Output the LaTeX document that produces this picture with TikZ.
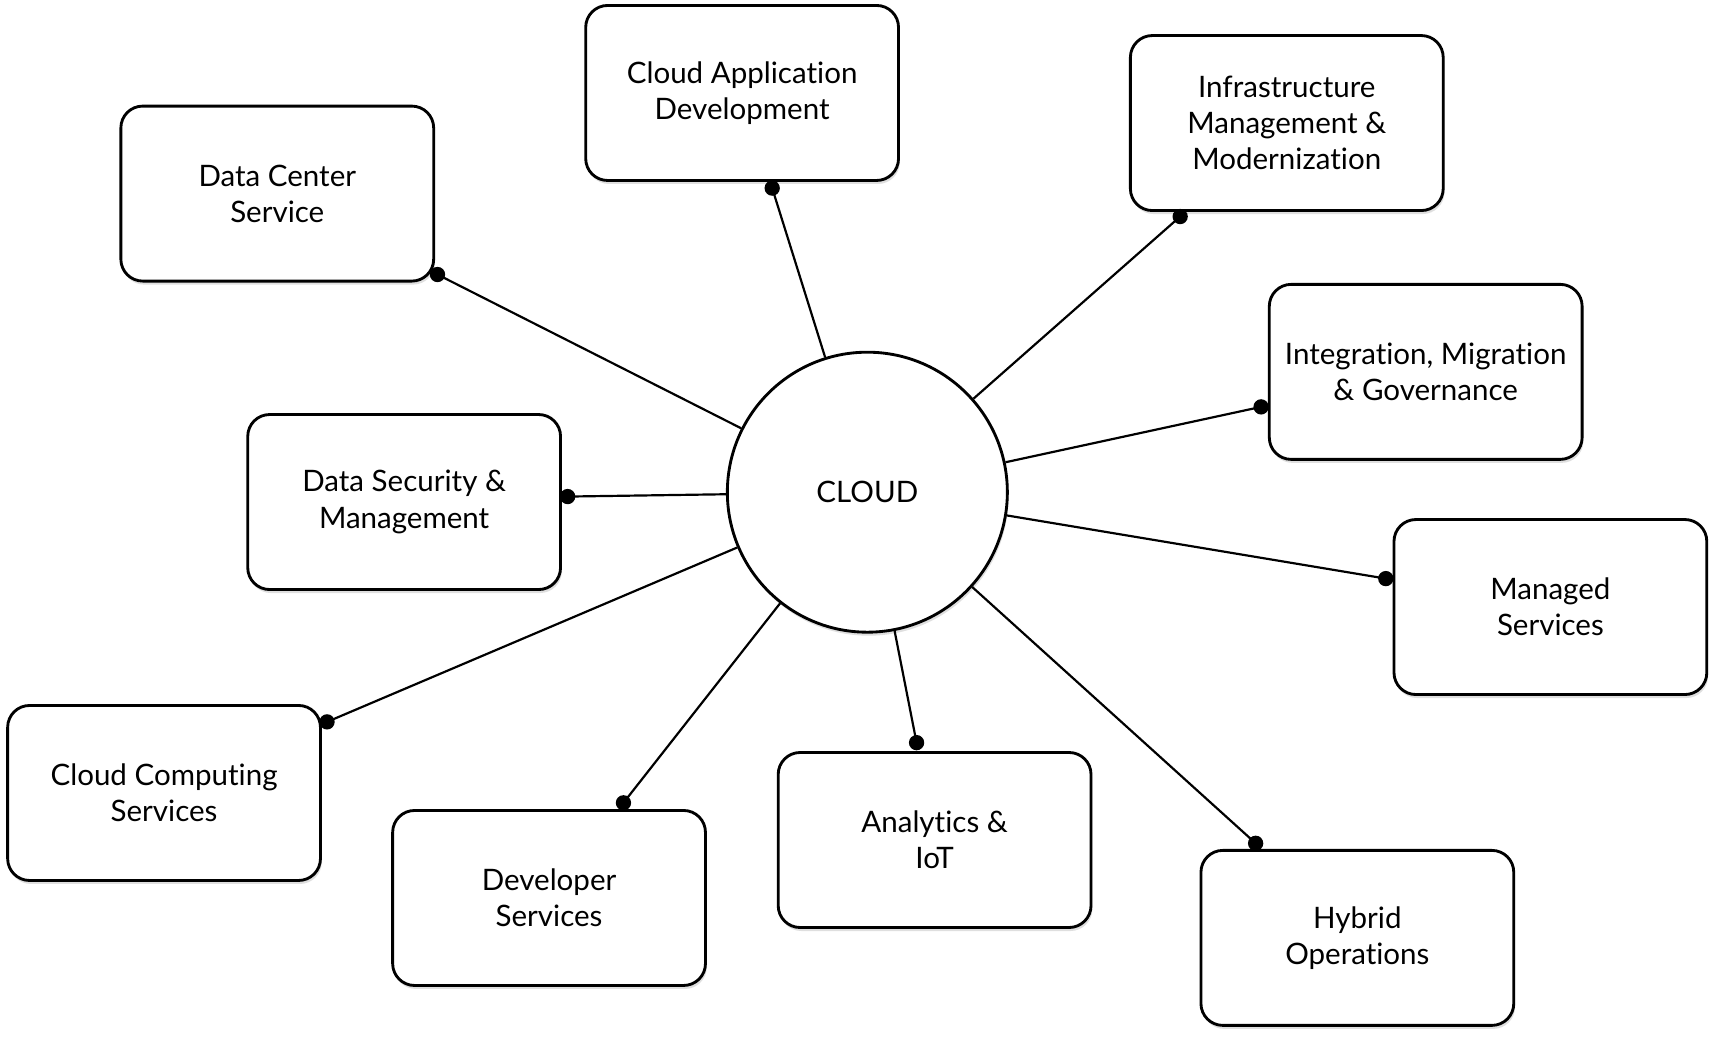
\documentclass[tikz,border=0pt]{standalone}
\usepackage{fontspec}
\setmainfont{Lato}[Ligatures={NoCommon}]
\usetikzlibrary{shadows}
\begin{document}
\begin{tikzpicture}[x=0.5pt,y=-0.5pt,
  box/.style={draw=black, line width=1.3pt, rounded corners=10pt, fill=white,
    minimum width=143pt, minimum height=80pt, align=center,
    font=\fontsize{13.5}{16.6}\selectfont,
    drop shadow={opacity=0.25, shadow xshift=0.6pt, shadow yshift=-1.6pt}},
  hub/.style={draw=black, line width=1.3pt, circle, fill=white, minimum size=128pt,
    inner sep=0pt, font=\fontsize{13.5}{16.6}\selectfont,
    drop shadow={opacity=0.25, shadow xshift=0.6pt, shadow yshift=-1.6pt}},
  link/.style={line width=1pt, black},
  dot/.style={fill=black}
]
\useasboundingbox (0,0) rectangle (1568,952);
\fill[white] (0,0) rectangle (1568,952);

\node[hub] (cloud) at (793,450) {CLOUD};

\node[box] (cad) at (678.5,85) {Cloud Application\\Development};
\node[box] (inf) at (1176.5,112.5) {Infrastructure\\Management \&\\Modernization};
\node[box] (dcs) at (253.5,177) {Data Center\\Service};
\node[box] (img) at (1303.5,340) {Integration, Migration\\\& Governance};
\node[box] (dsm) at (369.5,459) {Data Security \&\\Management};
\node[box] (mgs) at (1417.5,555) {Managed\\Services};
\node[box] (ccs) at (150,725) {Cloud Computing\\Services};
\node[box] (dev) at (502,821) {Developer\\Services};
\node[box] (ait) at (854.5,768) {Analytics \&\\IoT};
\node[box] (hyb) at (1241,857.5) {Hybrid\\Operations};

\coordinate (p1) at (706,172);
\coordinate (p2) at (1079,198);
\coordinate (p3) at (400,251);
\coordinate (p4) at (1153,372);
\coordinate (p5) at (519,454);
\coordinate (p6) at (1267,529);
\coordinate (p7) at (299,660);
\coordinate (p8) at (570,734);
\coordinate (p9) at (838,679);
\coordinate (p10) at (1148,771);

\foreach \p in {p1,p2,p3,p4,p5,p6,p7,p8,p9,p10}{
  \draw[link] (cloud) -- (\p);
  \fill[dot] (\p) circle (3.5pt);
}
\end{tikzpicture}
\end{document}
